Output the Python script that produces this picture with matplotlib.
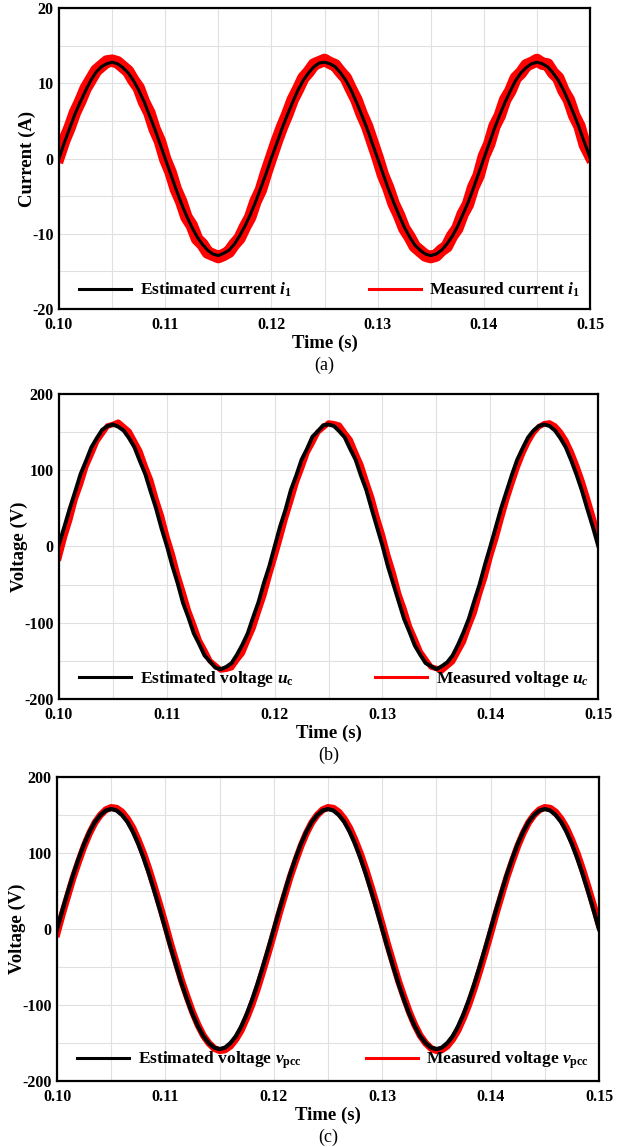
import matplotlib
matplotlib.use('Agg')
import matplotlib.pyplot as plt
from matplotlib.lines import Line2D
from matplotlib.ticker import MultipleLocator, FormatStrFormatter
import numpy as np

plt.rcParams['font.family'] = 'Liberation Serif'
plt.rcParams['axes.unicode_minus'] = False
plt.rcParams['mathtext.fontset'] = 'custom'
plt.rcParams['mathtext.rm'] = 'Liberation Serif:bold'
plt.rcParams['mathtext.it'] = 'Liberation Serif:bold:italic'
plt.rcParams['mathtext.bf'] = 'Liberation Serif:bold'

# sample instants, 0.5 ms apart
t = np.linspace(0.100, 0.150, 101)

# (a) inverter-side current i1 (A)
i1_est = [0.0, 2.1, 4.0, 5.9, 7.5, 9.0, 10.4, 11.5, 12.2, 12.6, 12.8, 12.6, 12.1, 11.4, 10.4, 9.1, 7.6, 5.8, 4.0, 2.0,
          0.0, -2.0, -4.0, -5.9, -7.6, -9.1, -10.4, -11.4, -12.2, -12.7, -12.9, -12.6, -12.2, -11.4, -10.3, -9.0, -7.5, -5.8, -3.9, -2.0,
          0.1, 2.0, 4.0, 5.8, 7.5, 9.1, 10.4, 11.4, 12.2, 12.7, 12.8, 12.6, 12.2, 11.4, 10.4, 9.1, 7.5, 5.8, 4.0, 2.0,
          0.0, -2.0, -4.0, -5.8, -7.5, -9.1, -10.4, -11.5, -12.2, -12.7, -12.9, -12.7, -12.2, -11.4, -10.4, -9.1, -7.5, -5.9, -4.0, -2.0,
          0.0, 2.0, 4.0, 5.8, 7.5, 9.0, 10.4, 11.4, 12.1, 12.6, 12.8, 12.6, 12.2, 11.4, 10.4, 9.1, 7.5, 5.8, 4.0, 2.0, 0.1]
i1_meas = [0.3, 2.4, 4.1, 6.1, 7.6, 9.3, 10.5, 11.7, 12.3, 12.9, 13.0, 12.8, 12.2, 11.6, 10.4, 9.4, 7.5, 6.1, 3.9, 2.3,
           -0.1, -1.8, -4.1, -5.7, -7.8, -8.9, -10.7, -11.4, -12.5, -12.8, -13.1, -12.8, -12.4, -11.4, -10.6, -9.1, -7.8, -5.7, -4.2, -1.9,
           0.2, 2.3, 4.2, 5.9, 7.8, 9.2, 10.7, 11.5, 12.5, 12.8, 13.1, 12.7, 12.4, 11.5, 10.7, 9.2, 7.8, 5.9, 4.3, 2.2,
           0.1, -2.2, -3.9, -6.0, -7.5, -9.3, -10.4, -11.7, -12.3, -12.9, -13.1, -12.9, -12.2, -11.7, -10.3, -9.3, -7.4, -6.1, -3.8, -2.3,
           0.3, 1.9, 4.3, 5.7, 7.8, 9.0, 10.7, 11.4, 12.4, 12.7, 13.1, 12.6, 12.5, 11.4, 10.7, 9.0, 7.8, 5.7, 4.3, 1.8, 0.4]

# (b) capacitor voltage uc (V)
uc_est = [3, 26, 50, 72, 95, 112, 130, 142, 153, 158, 160, 157, 152, 142, 130, 112, 95, 72, 50, 24,
          1, -25, -48, -74, -93, -114, -128, -143, -151, -159, -161, -158, -153, -142, -129, -114, -93, -73, -48, -26,
          0, 26, 48, 74, 93, 114, 128, 144, 151, 159, 160, 158, 151, 143, 128, 114, 93, 74, 49, 25,
          1, -26, -49, -72, -95, -112, -130, -142, -153, -157, -161, -157, -152, -143, -129, -113, -95, -72, -50, -24,
          0, 25, 50, 72, 94, 114, 129, 143, 152, 158, 160, 158, 152, 142, 130, 113, 94, 73, 49, 26, 1]
uc_meas = [-15, 12, 35, 62, 82, 105, 121, 138, 148, 158, 160, 163, 157, 151, 138, 125, 105, 87, 62, 40,
           13, -10, -37, -60, -84, -103, -123, -136, -150, -156, -162, -161, -159, -149, -140, -123, -107, -85, -64, -38,
           -14, 11, 37, 60, 84, 103, 123, 136, 150, 156, 162, 161, 159, 149, 140, 123, 107, 85, 64, 38,
           15, -12, -35, -62, -82, -105, -121, -138, -148, -158, -160, -163, -157, -151, -138, -125, -105, -87, -62, -40,
           -13, 10, 36, 61, 83, 104, 122, 137, 149, 157, 161, 162, 158, 150, 139, 124, 106, 86, 63, 39, 14]

# (c) PCC voltage vpcc (V)
vpcc_est = [0, 25, 49, 72, 93, 112, 128, 141, 150, 156, 158, 156, 150, 141, 128, 112, 93, 72, 49, 25,
            0, -25, -49, -72, -93, -112, -128, -141, -150, -156, -158, -156, -150, -141, -128, -112, -93, -72, -49, -25,
            0, 25, 49, 72, 93, 112, 128, 141, 150, 156, 158, 156, 150, 141, 128, 112, 93, 72, 49, 25,
            0, -25, -49, -72, -93, -112, -128, -141, -150, -156, -158, -156, -150, -141, -128, -112, -93, -72, -49, -25,
            0, 25, 49, 72, 93, 112, 128, 141, 150, 156, 158, 156, 150, 141, 128, 112, 93, 72, 49, 25, 0]
vpcc_meas = [-6, 20, 44, 68, 89, 109, 126, 140, 150, 157, 160, 159, 154, 145, 133, 117, 99, 78, 55, 31,
             6, -20, -44, -68, -89, -109, -126, -140, -150, -157, -160, -159, -154, -145, -133, -117, -99, -78, -55, -31,
             -6, 20, 44, 68, 89, 109, 126, 140, 150, 157, 160, 159, 154, 145, 133, 117, 99, 78, 55, 31,
             6, -20, -44, -68, -89, -109, -126, -140, -150, -157, -160, -159, -154, -145, -133, -117, -99, -78, -55, -31,
             -6, 20, 44, 68, 89, 109, 126, 140, 150, 157, 160, 159, 154, 145, 133, 117, 99, 78, 55, 31, 6]

fig = plt.figure(figsize=(6.19, 11.47), dpi=100)

panels = [
    dict(rect=[0.0953, 0.7306, 0.858, 0.2624], est=i1_est, meas=i1_meas,
         ylim=20, major=10, minor=5, ylabel='Current (A)',
         lw=(2.2, 9.0), tag='(a)',
         labels=(r'Estimated current $i_{\mathrm{1}}$', r'Measured current $i_{\mathrm{1}}$')),
    dict(rect=[0.0953, 0.3906, 0.871, 0.2659], est=uc_est, meas=uc_meas,
         ylim=200, major=100, minor=50, ylabel='Voltage (V)',
         lw=(2.8, 4.0), tag='(b)',
         labels=(r'Estimated voltage $u_{\mathrm{c}}$', r'Measured voltage $u_{c}$')),
    dict(rect=[0.0921, 0.0575, 0.8756, 0.2650], est=vpcc_est, meas=vpcc_meas,
         ylim=200, major=100, minor=50, ylabel='Voltage (V)',
         lw=(3.0, 5.0), tag='(c)',
         labels=(r'Estimated voltage $v_{\mathrm{pcc}}$', r'Measured voltage $v_{\mathrm{pcc}}$')),
]

leg_style = dict(frameon=False, handlelength=3.0, handletextpad=0.5,
                 borderaxespad=0.15, prop={'weight': 'bold', 'size': 12.5})

for p in panels:
    ax = fig.add_axes(p['rect'])
    ax.plot(t, p['meas'], color='#ff0000', lw=p['lw'][1], solid_joinstyle='round')
    ax.plot(t, p['est'], color='black', lw=p['lw'][0], solid_joinstyle='round')
    ax.set_xlim(0.10, 0.15)
    ax.set_ylim(-p['ylim'], p['ylim'])
    ax.xaxis.set_major_locator(MultipleLocator(0.01))
    ax.xaxis.set_minor_locator(MultipleLocator(0.005))
    ax.xaxis.set_major_formatter(FormatStrFormatter('%.2f'))
    ax.yaxis.set_major_locator(MultipleLocator(p['major']))
    ax.yaxis.set_minor_locator(MultipleLocator(p['minor']))
    ax.grid(True, which='both', color='#e0e0e0', lw=0.8)
    ax.set_axisbelow(True)
    ax.tick_params(which='both', length=0, labelsize=11.5)
    ax.tick_params(axis='x', pad=6)
    ax.tick_params(axis='y', pad=4)
    for lab in ax.get_xticklabels() + ax.get_yticklabels():
        lab.set_fontweight('bold')
    for s in ax.spines.values():
        s.set_linewidth(1.6)
    ax.set_xlabel('Time (s)', fontsize=13.5, fontweight='bold', labelpad=1)
    ax.set_ylabel(p['ylabel'], fontsize=13.5, fontweight='bold', labelpad=-3)

    # legend entries sit in the two bottom corners
    leg1 = ax.legend([Line2D([], [], color='black', lw=2.2)], [p['labels'][0]],
                     loc='lower left', bbox_to_anchor=(0.02, 0.0), **leg_style)
    ax.add_artist(leg1)
    ax.legend([Line2D([], [], color='#ff0000', lw=2.2)], [p['labels'][1]],
              loc='lower right', bbox_to_anchor=(1.0, 0.0), **leg_style)

    ax.annotate(p['tag'], xy=(0.5, 0), xycoords='axes fraction',
                xytext=(0, -56), textcoords='offset pixels',
                ha='center', va='center', fontsize=13)

fig.savefig('out.png', dpi=100)
